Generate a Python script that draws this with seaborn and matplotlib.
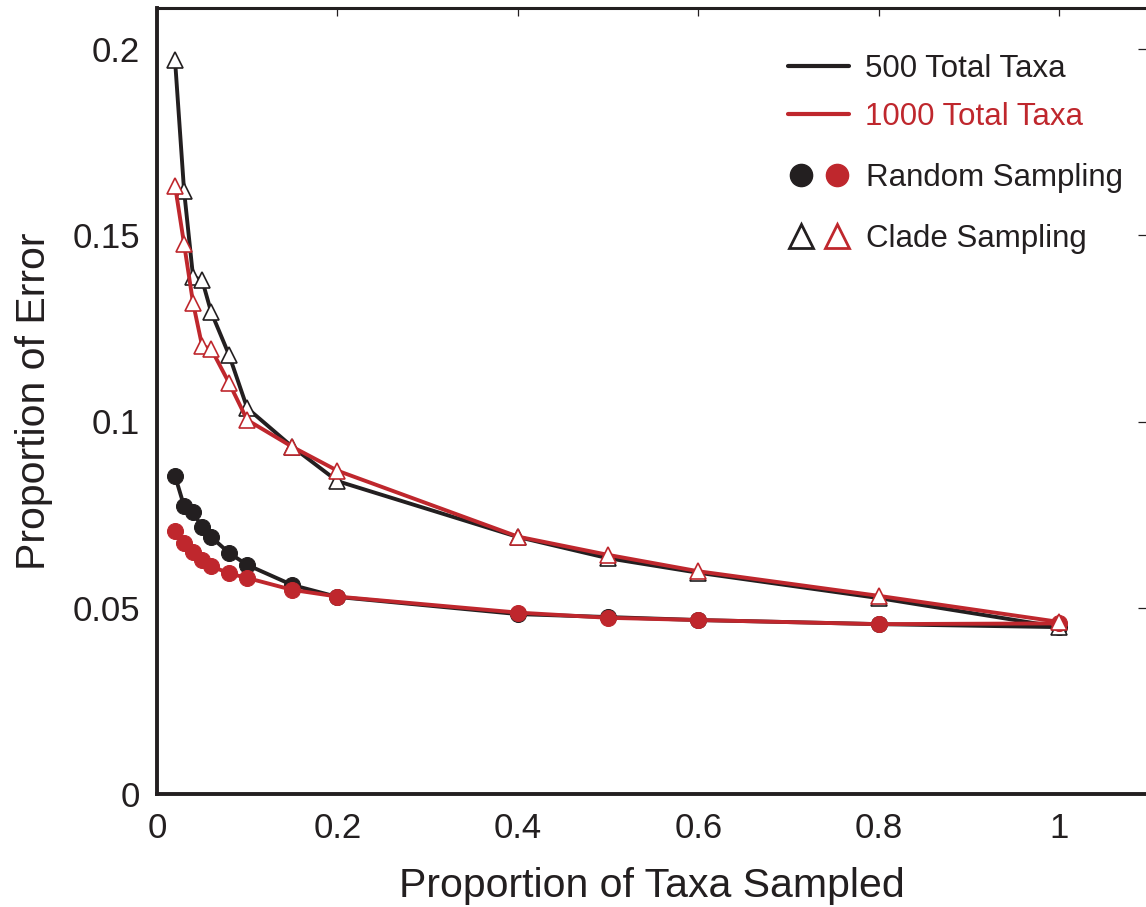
import matplotlib
matplotlib.use("Agg")
import matplotlib.pyplot as plt
import seaborn as sns
import numpy as np
from matplotlib.lines import Line2D
from matplotlib.legend_handler import HandlerTuple

# ---- data ----
prop_sampled = [0.02, 0.03, 0.04, 0.05, 0.06, 0.08, 0.1, 0.15, 0.2, 0.4, 0.5, 0.6, 0.8, 1.0]
clade_500 = [0.197, 0.162, 0.1388, 0.138, 0.1294, 0.1178, 0.1036, 0.0932, 0.084, 0.069, 0.0633, 0.0594, 0.0526, 0.0448]
clade_1000 = [0.1633, 0.1477, 0.1318, 0.1203, 0.1195, 0.1103, 0.1004, 0.0932, 0.0868, 0.0691, 0.0642, 0.0598, 0.0532, 0.0462]
random_500 = [0.0854, 0.0773, 0.0756, 0.0716, 0.0690, 0.0647, 0.0615, 0.0561, 0.0529, 0.0483, 0.0475, 0.0467, 0.0456, 0.0448]
random_1000 = [0.0706, 0.0675, 0.0649, 0.0629, 0.0612, 0.0592, 0.0580, 0.0548, 0.0530, 0.0487, 0.0473, 0.0467, 0.0456, 0.0458]

x_ticks = [0, 0.2, 0.4, 0.6, 0.8, 1.0]
x_ticklabels = ["0", "0.2", "0.4", "0.6", "0.8", "1"]
y_ticks = [0, 0.05, 0.1, 0.15, 0.2]
y_ticklabels = ["0", "0.05", "0.1", "0.15", "0.2"]

legend_labels = ["500 Total Taxa", "1000 Total Taxa", "Random Sampling", "Clade Sampling"]

BLACK = "#231f20"
RED = "#bf272d"

sns.set_theme(style="white")
plt.rcParams["font.family"] = ["Liberation Sans", "DejaVu Sans"]

fig = plt.figure(figsize=(11.46, 9.07), dpi=100)
ax = fig.add_axes([157 / 1146, 113 / 907, 1 - 157 / 1146, (794 - 8) / 907])

lw = 2.8
ms_c = 11.5
ms_t = 12

sns.lineplot(x=prop_sampled, y=random_500, color=BLACK, lw=lw, marker="o", markersize=ms_c,
             markeredgecolor=BLACK, markerfacecolor=BLACK, ax=ax, zorder=3)
sns.lineplot(x=prop_sampled, y=clade_500, color=BLACK, lw=lw, marker="^", markersize=ms_t,
             markeredgecolor=BLACK, markerfacecolor="white", markeredgewidth=1.2, ax=ax, zorder=3)
sns.lineplot(x=prop_sampled, y=random_1000, color=RED, lw=lw, marker="o", markersize=ms_c,
             markeredgecolor=RED, markerfacecolor=RED, ax=ax, zorder=4)
sns.lineplot(x=prop_sampled, y=clade_1000, color=RED, lw=lw, marker="^", markersize=ms_t,
             markeredgecolor=RED, markerfacecolor="white", markeredgewidth=1.2, ax=ax, zorder=4)

ax.set_xlim(0, (1146 - 157) / 902)
ax.set_ylim(0, (794 - 8) / 3725)
ax.set_xticks(x_ticks)
ax.set_xticklabels(x_ticklabels)
ax.set_yticks(y_ticks)
ax.set_yticklabels(y_ticklabels)

ax.tick_params(axis="both", direction="in", length=6, width=0.9, colors=BLACK,
               labelsize=25, labelcolor=BLACK, top=True, right=True)
ax.tick_params(axis="y", pad=12)
ax.tick_params(axis="x", pad=13)

for side in ["left", "bottom"]:
    ax.spines[side].set_linewidth(2.8)
    ax.spines[side].set_color(BLACK)
ax.spines["top"].set_linewidth(2.2)
ax.spines["top"].set_color(BLACK)
ax.spines["right"].set_visible(False)

ax.set_xlabel("Proportion of Taxa Sampled", fontsize=29.5, color=BLACK, labelpad=16)
ax.set_ylabel("Proportion of Error", fontsize=29.5, color=BLACK, labelpad=14)

# legends
h1 = [Line2D([], [], color=BLACK, lw=3), Line2D([], [], color=RED, lw=3)]
leg1 = ax.legend(h1, legend_labels[:2], loc="upper left",
                 bbox_to_anchor=(788 / 1146, 1 - 54 / 907), bbox_transform=fig.transFigure,
                 frameon=False, fontsize=22.5, handlelength=1.95, handletextpad=0.5,
                 labelspacing=0.57, borderpad=0, borderaxespad=0)
leg1.get_texts()[0].set_color(BLACK)
leg1.get_texts()[1].set_color(RED)
ax.add_artist(leg1)

bc = Line2D([], [], ls="none", marker="o", markersize=16, color=BLACK)
rc = Line2D([], [], ls="none", marker="o", markersize=16, color=RED)
bt = Line2D([], [], ls="none", marker="^", markersize=17, markerfacecolor="white",
            markeredgecolor=BLACK, markeredgewidth=2)
rt = Line2D([], [], ls="none", marker="^", markersize=17, markerfacecolor="white",
            markeredgecolor=RED, markeredgewidth=2)
leg2 = ax.legend([(bc, rc), (bt, rt)], legend_labels[2:], loc="upper left",
                 bbox_to_anchor=(788 / 1146, 1 - 163 / 907), bbox_transform=fig.transFigure,
                 handler_map={tuple: HandlerTuple(ndivide=None, pad=0.3)},
                 frameon=False, fontsize=22.5, handlelength=2.0, handletextpad=0.5,
                 labelspacing=0.98, borderpad=0, borderaxespad=0)
for t in leg2.get_texts():
    t.set_color(BLACK)

fig.savefig("out.png", dpi=100)
